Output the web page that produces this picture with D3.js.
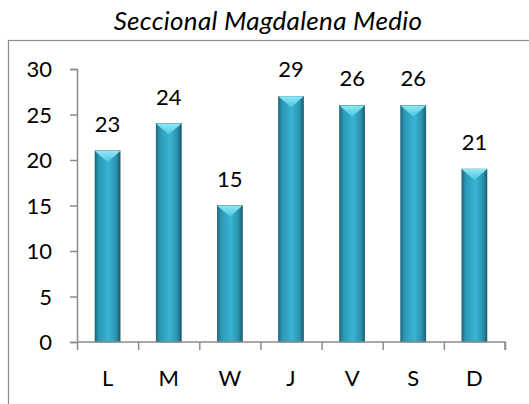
<!DOCTYPE html>
<html>
<head>
<meta charset="utf-8">
<script src="https://cdn.jsdelivr.net/npm/d3@7"></script>
<style>
  body { margin: 0; background: #fff; }
  svg text { font-family: Lato, "Open Sans", sans-serif; fill: #000; }
</style>
</head>
<body>
<script>
// Seccional Magdalena Medio - bar chart

var days = ['L', 'M', 'W', 'J', 'V', 'S', 'D'];
var barValues = [21, 24, 15, 27, 26, 26, 19];     // bar heights as drawn
var barLabels = [23, 24, 15, 29, 26, 26, 21];     // numbers printed above bars
var yTicks = [0, 5, 10, 15, 20, 25, 30];

var W = 529, H = 404;
var margin = {top: 69, left: 77, right: 24, bottom: 62};

var svg = d3.select('body').append('svg')
  .attr('width', W)
  .attr('height', H);

var defs = svg.append('defs');

// cylinder-ish body gradient
var body = defs.append('linearGradient').attr('id', 'barBody')
  .attr('x1', 0).attr('x2', 1).attr('y1', 0).attr('y2', 0);
body.append('stop').attr('offset', '0%').attr('stop-color', '#1c6c82');
body.append('stop').attr('offset', '15%').attr('stop-color', '#2a98b6');
body.append('stop').attr('offset', '55%').attr('stop-color', '#39b4d4');
body.append('stop').attr('offset', '85%').attr('stop-color', '#2b90ab');
body.append('stop').attr('offset', '100%').attr('stop-color', '#175d70');

var cap = defs.append('linearGradient').attr('id', 'barCap')
  .attr('x1', 0).attr('x2', 0).attr('y1', 0).attr('y2', 1);
cap.append('stop').attr('offset', '0%').attr('stop-color', '#8fe9f6');
cap.append('stop').attr('offset', '100%').attr('stop-color', '#4cc6e0');

// outer chart border
svg.append('rect')
  .attr('x', 8.5).attr('y', 40.5)
  .attr('width', 540).attr('height', 400)
  .attr('fill', 'none')
  .attr('stroke', '#8c8c8c')
  .attr('stroke-width', 1.2);

// title
svg.append('text')
  .attr('x', 268).attr('y', 30)
  .attr('text-anchor', 'middle')
  .style('font-style', 'italic')
  .style('font-size', '26px')
  .style('letter-spacing', '0.3px')
  .text('Seccional Magdalena Medio');

var x = d3.scaleBand()
  .domain(days)
  .range([margin.left, W - margin.right])
  .paddingInner(0.59)
  .paddingOuter(0.295);

var y = d3.scaleLinear()
  .domain([0, 30])
  .range([H - margin.bottom, margin.top]);

// y axis
var yAxis = svg.append('g')
  .attr('transform', 'translate(' + margin.left + ',0)')
  .call(d3.axisLeft(y).tickValues(yTicks).tickSize(7).tickPadding(18));
yAxis.select('.domain').attr('stroke', '#8c8c8c').attr('stroke-width', 1.5);
yAxis.selectAll('line').attr('stroke', '#8c8c8c').attr('stroke-width', 1.5);
yAxis.selectAll('text')
  .style('font-size', '22px')
  .style('font-family', 'Lato, sans-serif')
  .attr('fill', '#000')
  .attr('dy', '0.36em');

// bars
var bars = svg.append('g').selectAll('g.bar')
  .data(days)
  .enter().append('g')
  .attr('class', 'bar');

bars.append('rect')
  .attr('x', function(d) { return x(d); })
  .attr('y', function(d, i) { return y(barValues[i]); })
  .attr('width', x.bandwidth())
  .attr('height', function(d, i) { return y(0) - y(barValues[i]); })
  .attr('fill', 'url(#barBody)')
  .attr('stroke', '#155466')
  .attr('stroke-width', 0.6);

// top bevel cap
bars.append('path')
  .attr('d', function(d, i) {
    var x0 = x(d), x1 = x(d) + x.bandwidth(), t = y(barValues[i]);
    var xm = (x0 + x1) / 2;
    return 'M' + x0 + ',' + t + 'L' + x1 + ',' + t +
      'L' + (x1 - 2) + ',' + (t + 2) + 'L' + xm + ',' + (t + 11) +
      'L' + (x0 + 2) + ',' + (t + 2) + 'Z';
  })
  .attr('fill', 'url(#barCap)');

// bar labels
bars.append('text')
  .attr('x', function(d) { return x(d) + x.bandwidth() / 2; })
  .attr('y', function(d, i) { return y(barValues[i]) - 19; })
  .attr('text-anchor', 'middle')
  .style('font-size', '22px')
  .text(function(d, i) { return barLabels[i]; });

// x axis
var xAxisScale = d3.scalePoint()
  .domain(d3.range(days.length + 1))
  .range([margin.left, W - margin.right]);
var xAxis = svg.append('g')
  .attr('transform', 'translate(0,' + y(0) + ')')
  .call(d3.axisBottom(xAxisScale).tickSize(8).tickFormat(''));
xAxis.select('.domain').attr('stroke', '#8c8c8c').attr('stroke-width', 1.5)
  .attr('d', 'M' + margin.left + ',0H' + (W - margin.right) + 'V8');
xAxis.selectAll('line').attr('stroke', '#8c8c8c').attr('stroke-width', 1.5);

svg.append('g').selectAll('text')
  .data(days)
  .enter().append('text')
  .attr('x', function(d) { return x(d) + x.bandwidth() / 2; })
  .attr('y', 386)
  .attr('text-anchor', 'middle')
  .style('font-size', '22px')
  .text(function(d) { return d; });
</script>
</body>
</html>
